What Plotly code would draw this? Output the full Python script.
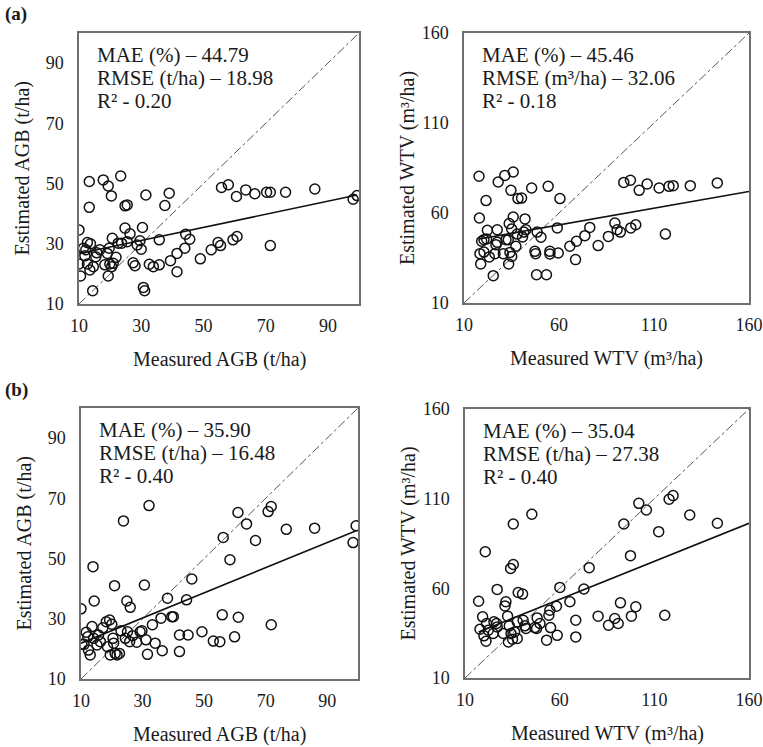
import plotly.graph_objects as go

# ---------------- DATA ----------------
# Panel (a) left: AGB
agb_meas_a = [10, 10, 10.5, 11.4, 11.9, 12.2, 12.7, 12.7, 13.3, 13.3, 13.5, 13.7, 14.4, 14.6, 15.4,
              15.7, 16.7, 17.8, 18.3, 19.1, 19.4, 19.4, 19.7, 19.9, 20.4, 20.5, 20.7, 21.0, 21.9, 22.6,
              23.4, 23.7, 24.8, 24.8, 25.5, 25.5, 26.4, 27.4, 28.0, 28.7, 29.6, 30.0, 30.4, 30.7, 31.1,
              31.5, 32.6, 33.9, 35.8, 35.8, 37.6, 39.0, 39.4, 41.5, 41.5, 44.0, 44.3, 45.6, 49.0, 52.5,
              54.7, 55.5, 55.8, 58.0, 59.5, 60.6, 60.8, 63.6, 66.5, 70.3, 71.5, 71.5, 76.4, 85.8, 98.1, 99.4]
agb_est_a = [34.6, 23.3, 19.3, 28.5, 26.0, 28.0, 30.4, 23.3, 50.7, 42.1, 21.3, 30.0, 14.4, 22.4, 25.7,
             27.0, 28.0, 51.2, 23.0, 26.8, 49.2, 19.3, 28.5, 23.3, 45.9, 22.4, 31.8, 23.5, 25.5, 30.2,
             52.5, 30.2, 42.6, 35.2, 42.9, 30.7, 33.3, 23.7, 22.7, 29.6, 31.0, 28.2, 35.4, 15.5, 14.4,
             46.2, 23.2, 22.4, 23.0, 31.3, 42.7, 46.8, 24.4, 26.8, 20.7, 28.5, 33.2, 31.5, 25.0, 28.0,
             30.4, 29.4, 48.7, 49.6, 31.3, 45.7, 32.4, 47.9, 46.6, 47.1, 47.1, 29.4, 47.1, 48.2, 44.8, 46.0]

# Panel (a) right: WTV
wtv_meas_a = [17.9, 18.1, 18.4, 18.8, 19.3, 20.5, 20.5, 21.6, 21.9, 22.3, 23.3, 25.4, 26.3, 26.8, 27.5,
              27.5, 28.0, 30.7, 31.5, 32.1, 33.3, 33.5, 33.8, 34.2, 34.7, 35.1, 35.1, 35.9, 35.9, 37.3,
              38.0, 38.4, 40.3, 40.8, 41.5, 42.1, 42.6, 45.6, 47.3, 47.7, 48.2, 48.5, 50.5, 53.4, 54.3,
              55.2, 55.2, 59.1, 59.6, 60.5, 65.7, 68.7, 69.2, 73.6, 76.2, 80.6, 86.0, 89.4, 90.6, 92.3,
              94.1, 97.6, 97.8, 100.4, 102.2, 106.4, 112.7, 116.0, 117.9, 120.1, 129.1, 143.3]
wtv_est_a = [80.4, 57.2, 37.4, 31.7, 44.3, 45.2, 38.3, 66.9, 45.6, 50.4, 35.6, 25.2, 37.4, 42.4, 43.7,
             50.7, 77.2, 37.4, 80.9, 45.2, 45.2, 31.7, 54.1, 38.1, 72.6, 35.9, 51.1, 57.8, 82.8, 41.5,
             48.3, 68.0, 68.3, 46.7, 49.4, 56.7, 50.7, 73.9, 38.7, 37.4, 25.7, 49.4, 46.5, 25.7, 74.8,
             38.7, 37.2, 51.7, 37.8, 68.0, 41.5, 34.1, 44.3, 47.4, 52.0, 41.9, 47.0, 54.4, 50.7, 49.4,
             77.0, 78.2, 51.7, 53.5, 72.6, 76.1, 73.9, 48.3, 74.8, 75.2, 75.2, 76.7]

# Panel (b) left: AGB
agb_meas_b = [10, 10.3, 11.0, 11.7, 12.2, 12.4, 13.0, 13.6, 13.9, 14.1, 14.3, 15.2, 15.7, 16.3, 17.1,
              18.2, 18.6, 19.3, 19.5, 20.0, 20.4, 20.6, 20.9, 21.1, 21.7, 22.5, 23.0, 23.8, 24.4, 24.9,
              25.1, 25.8, 26.0, 26.8, 28.1, 29.2, 29.8, 30.6, 31.1, 31.6, 32.1, 33.2, 34.1, 36.0, 36.4,
              38.1, 39.5, 40.0, 42.0, 42.0, 44.3, 44.8, 46.0, 49.3, 53.0, 55.1, 55.9, 56.2, 58.4, 59.9,
              61.0, 61.1, 63.8, 66.7, 70.8, 71.8, 71.8, 76.7, 85.9, 98.4, 99.4]
agb_est_b = [33.3, 21.5, 21.5, 25.5, 24.0, 19.6, 18.0, 27.4, 47.3, 23.5, 35.9, 21.3, 24.6, 22.4, 27.0,
             29.0, 20.7, 29.6, 18.0, 28.2, 23.5, 21.9, 41.0, 18.5, 18.0, 18.5, 26.0, 62.5, 23.5, 35.9,
             25.7, 22.4, 33.8, 24.4, 22.2, 25.7, 26.0, 41.2, 23.0, 18.2, 67.6, 28.0, 21.9, 30.2, 19.4,
             36.8, 30.7, 30.7, 24.6, 19.1, 36.3, 24.6, 43.2, 25.7, 22.6, 22.4, 31.3, 57.0, 49.6, 24.0,
             65.3, 30.5, 61.5, 56.0, 65.6, 67.3, 28.0, 59.7, 60.1, 55.3, 60.9]

# Panel (b) right: WTV
wtv_meas_b = [17.2, 17.9, 19.3, 20.0, 20.7, 21.1, 21.4, 22.3, 24.9, 25.3, 26.7, 27.0, 27.0, 30.2, 31.1,
              31.6, 32.5, 32.9, 33.4, 34.1, 34.3, 35.1, 35.5, 35.5, 36.2, 37.6, 37.6, 38.1, 40.4, 40.7,
              41.6, 42.2, 45.3, 46.9, 47.8, 48.1, 49.6, 53.1, 54.3, 54.8, 55.2, 58.3, 58.7, 60.1, 65.4,
              68.5, 68.5, 72.8, 75.6, 80.3, 85.8, 89.1, 90.9, 92.1, 93.9, 97.4, 97.9, 100.2, 101.8, 105.8,
              112.3, 115.5, 117.8, 119.9, 128.7, 143.3]
wtv_est_b = [52.8, 37.2, 44.1, 33.5, 80.4, 30.5, 40.4, 36.6, 34.8, 41.3, 40.4, 59.4, 38.5, 34.8, 50.2,
             52.5, 44.5, 30.1, 39.1, 71.1, 34.8, 31.6, 73.3, 95.9, 35.7, 32.0, 41.3, 57.7, 56.8, 42.2,
             39.1, 37.6, 101.3, 38.1, 37.6, 43.5, 40.4, 31.1, 45.0, 47.8, 38.1, 50.0, 33.8, 60.5, 52.5,
             42.2, 32.9, 59.6, 71.5, 44.5, 39.4, 43.2, 40.4, 51.9, 95.9, 78.2, 44.5, 49.7, 107.4, 103.7,
             91.6, 45.0, 109.7, 111.7, 100.9, 96.3]

# Fitted trend lines (slope, intercept) and x-extent
trend_a_agb = dict(slope=0.217, intercept=24.6, x=[10, 99.4])
trend_a_wtv = dict(slope=0.186, intercept=42.2, x=[18.0, 160])
trend_b_agb = dict(slope=0.418, intercept=17.7, x=[10, 99.4])
trend_b_wtv = dict(slope=0.424, intercept=28.4, x=[17.2, 160])

stats_a_agb = ["MAE (%) – 44.79", "RMSE (t/ha) – 18.98", "R² - 0.20"]
stats_a_wtv = ["MAE (%) – 45.46", "RMSE (m³/ha) – 32.06", "R² - 0.18"]
stats_b_agb = ["MAE (%) – 35.90", "RMSE (t/ha) – 16.48", "R² - 0.40"]
stats_b_wtv = ["MAE (%) – 35.04", "RMSE (t/ha) – 27.38", "R² - 0.40"]

agb_ticks = [10, 30, 50, 70, 90]
agb_range = [10, 100]
wtv_ticks = [10, 60, 110, 160]
wtv_range = [10, 160]

# ---------------- FIGURE ----------------
W, H = 763, 747
FONT = "Liberation Serif, Times New Roman, serif"
TXT = "#1a1a1a"
BOX = "#6f6f6f"

def px_x(p):
    return p / W

def px_y(p):
    return 1 - p / H

panels = [
    ("", agb_meas_a, agb_est_a, trend_a_agb, stats_a_agb, agb_ticks, agb_range,
     (79, 359, 33, 304), "Measured AGB (t/ha)", "Estimated AGB (t/ha)"),
    ("2", wtv_meas_a, wtv_est_a, trend_a_wtv, stats_a_wtv, wtv_ticks, wtv_range,
     (464, 749, 33, 303), "Measured WTV (m³/ha)", "Estimated WTV (m³/ha)"),
    ("3", agb_meas_b, agb_est_b, trend_b_agb, stats_b_agb, agb_ticks, agb_range,
     (81, 358, 408, 679), "Measured AGB (t/ha)", "Estimated AGB (t/ha)"),
    ("4", wtv_meas_b, wtv_est_b, trend_b_wtv, stats_b_wtv, wtv_ticks, wtv_range,
     (465, 749, 409, 678), "Measured WTV (m³/ha)", "Estimated WTV (m³/ha)"),
]

fig = go.Figure()
annotations = []
layout_axes = {}

for suf, mx, my, tr, stats, ticks, rng, box, xt, yt in panels:
    xa = "x" + suf
    ya = "y" + suf
    fig.add_trace(go.Scatter(x=rng, y=rng, mode="lines", xaxis=xa, yaxis=ya,
                             line=dict(color="#555555", width=1, dash="dashdot"),
                             showlegend=False, hoverinfo="skip"))
    tx = tr["x"]
    ty = [tr["slope"] * v + tr["intercept"] for v in tx]
    fig.add_trace(go.Scatter(x=tx, y=ty, mode="lines", xaxis=xa, yaxis=ya,
                             line=dict(color="#111111", width=1.6),
                             showlegend=False, hoverinfo="skip"))
    fig.add_trace(go.Scatter(x=mx, y=my, mode="markers", xaxis=xa, yaxis=ya,
                             marker=dict(symbol="circle-open", size=10,
                                         color="#111111", line=dict(width=1.5, color="#111111")),
                             showlegend=False))
    x0, x1, y0, y1 = box
    axis_common = dict(range=rng, tickvals=ticks, showgrid=False, zeroline=False,
                       showline=True, linecolor=BOX, linewidth=1.5, mirror=True,
                       ticks="", automargin=False, ticklabeloverflow="allow",
                       tickfont=dict(family=FONT, size=18, color=TXT))
    layout_axes["xaxis" + suf] = dict(axis_common, domain=[px_x(x0), px_x(x1)],
                                      anchor=ya, ticklabelstandoff=5)
    layout_axes["yaxis" + suf] = dict(axis_common, domain=[px_y(y1), px_y(y0)],
                                      anchor=xa, ticklabelstandoff=10)
    for i, s in enumerate(stats):
        annotations.append(dict(text=s, xref="paper", yref="paper",
                                x=px_x(x0 + 16), y=px_y(y0 + 22 + i * 23),
                                xanchor="left", yanchor="middle", showarrow=False,
                                font=dict(family=FONT, size=21, color=TXT)))
    annotations.append(dict(text=xt, xref="paper", yref="paper",
                            x=px_x((x0 + x1) / 2), y=px_y(y1 + 55),
                            xanchor="center", yanchor="middle", showarrow=False,
                            font=dict(family=FONT, size=20, color=TXT)))
    annotations.append(dict(text=yt, xref="paper", yref="paper",
                            x=px_x(x0 - 57), y=px_y((y0 + y1) / 2),
                            xanchor="center", yanchor="middle", showarrow=False, textangle=-90,
                            font=dict(family=FONT, size=20, color=TXT)))

annotations.append(dict(text="<b>(a)</b>", xref="paper", yref="paper", x=px_x(3), y=px_y(14),
                        xanchor="left", yanchor="middle", showarrow=False,
                        font=dict(family=FONT, size=19, color=TXT)))
annotations.append(dict(text="<b>(b)</b>", xref="paper", yref="paper", x=px_x(3), y=px_y(390),
                        xanchor="left", yanchor="middle", showarrow=False,
                        font=dict(family=FONT, size=19, color=TXT)))

fig.update_layout(width=W, height=H, margin=dict(l=0, r=0, t=0, b=0),
                  plot_bgcolor="white", paper_bgcolor="white",
                  annotations=annotations, **layout_axes)

fig.write_html("out.html", config={"displayModeBar": False},
               post_script="document.body.style.margin='0';")
